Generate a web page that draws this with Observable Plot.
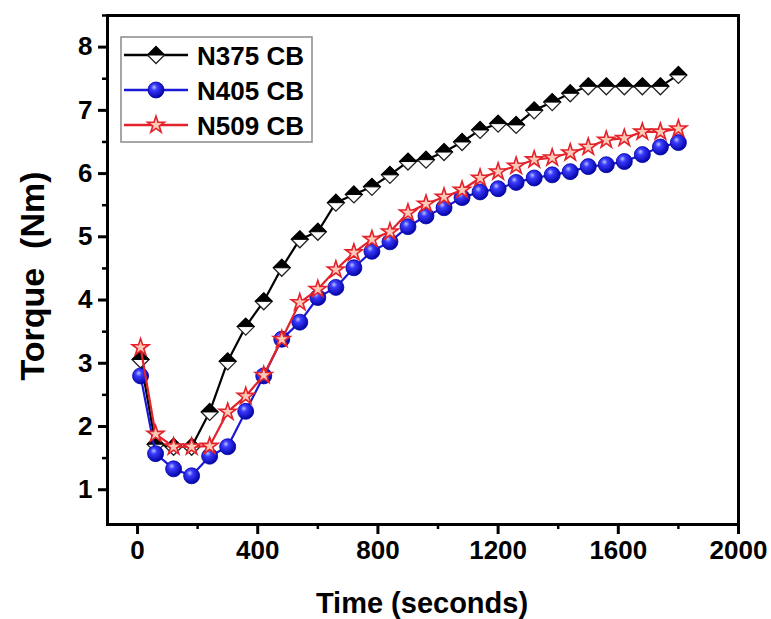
<!DOCTYPE html>
<html><head><meta charset="utf-8">
<script src="https://cdn.jsdelivr.net/npm/d3@7"></script>
<script src="https://cdn.jsdelivr.net/npm/@observablehq/plot@0.6"></script>
<style>body{margin:0;background:#fff} svg{display:block}</style>
</head><body><div id="chart"></div>
<script>
const times = [10,60,120,180,240,300,360,420,480,540,600,660,720,780,840,900,960,1020,1080,1140,1200,1260,1320,1380,1440,1500,1560,1620,1680,1740,1800];
const n375 = [3.06,1.72,1.68,1.68,2.23,3.03,3.58,3.98,4.51,4.96,5.08,5.54,5.67,5.79,5.98,6.19,6.22,6.34,6.50,6.69,6.79,6.77,7.00,7.13,7.27,7.38,7.38,7.38,7.38,7.38,7.56];
const n405 = [2.80,1.57,1.33,1.22,1.53,1.68,2.24,2.80,3.38,3.65,4.04,4.20,4.51,4.77,4.92,5.16,5.33,5.46,5.62,5.71,5.76,5.86,5.93,5.98,6.03,6.11,6.14,6.19,6.30,6.42,6.49];
const n509 = [3.25,1.88,1.68,1.68,1.69,2.23,2.48,2.81,3.38,3.96,4.17,4.48,4.75,4.96,5.08,5.38,5.52,5.63,5.74,5.93,6.03,6.12,6.22,6.25,6.33,6.42,6.53,6.56,6.66,6.66,6.71];
const seriesNames = ["N375 CB","N405 CB","N509 CB"];
const xTicks = [0,400,800,1200,1600,2000];
const xMinor = [200,600,1000,1400,1800];
const yTicks = [1,2,3,4,5,6,7,8];
const yMinor = [1.5,2.5,3.5,4.5,5.5,6.5,7.5,8.5];
const xTitle = "Time (seconds)";
const yTitle = "Torque\u00a0 (Nm)";

const rows = (vals) => times.map((t,i) => ({t, v: vals[i]}));
const d375 = rows(n375), d405 = rows(n405), d509 = rows(n509);

const diamondFull = {draw(ctx, size){const h = Math.sqrt(size/Math.PI); ctx.moveTo(0,-h); ctx.lineTo(h,0); ctx.lineTo(0,h); ctx.lineTo(-h,0); ctx.closePath();}};
const diamondTop = {draw(ctx, size){const h = Math.sqrt(size/Math.PI); ctx.moveTo(0,-h); ctx.lineTo(h,0); ctx.lineTo(-h,0); ctx.closePath();}};

const FONT = "Liberation Sans, Arial, sans-serif";
const blueLine = "#1a1ad6", redLine = "#e3222c";
const fmt = d => String(d);

const plot = Plot.plot({
  width: 771, height: 619,
  marginLeft: 107, marginRight: 33, marginTop: 15, marginBottom: 95,
  style: {fontFamily: FONT, fontWeight: "bold", background: "white", color: "black"},
  x: {domain: [-100, 2000]},
  y: {domain: [0.45, 8.5]},
  marks: [
    Plot.axisX(xMinor, {tickSize: 5, strokeWidth: 2.5, tickFormat: () => "", label: null}),
    Plot.axisX(xTicks, {tickSize: 10, tickPadding: 6, strokeWidth: 3, fontSize: 26, fontWeight: "bold", tickFormat: fmt, label: null}),
    Plot.axisY(yMinor, {tickSize: 5, strokeWidth: 2.5, tickFormat: () => "", label: null}),
    Plot.axisY(yTicks, {tickSize: 9, tickPadding: 6, strokeWidth: 3, fontSize: 26, fontWeight: "bold", tickFormat: fmt, label: null}),
    Plot.frame({stroke: "black", strokeWidth: 3}),
    Plot.line(d375, {x: "t", y: "v", stroke: "black", strokeWidth: 2.2}),
    Plot.dot(d375, {x: "t", y: "v", symbol: diamondFull, r: 8.5, fill: "white", stroke: "#222", strokeWidth: 1.3}),
    Plot.dot(d375, {x: "t", y: "v", symbol: diamondTop, r: 8.5, fill: "black", stroke: "black", strokeWidth: 1}),
    Plot.line(d405, {x: "t", y: "v", stroke: blueLine, strokeWidth: 2.2}),
    Plot.dot(d405, {x: "t", y: "v", r: 8, fill: "url(#sphereGrad)", stroke: "#0000a8", strokeWidth: 0.8}),
    Plot.line(d509, {x: "t", y: "v", stroke: redLine, strokeWidth: 2.2}),
    Plot.dot(d509, {x: "t", y: "v", symbol: "star", r: 5.3, fill: "#fbc9b5", stroke: redLine, strokeWidth: 1.6})
  ]
});
document.getElementById("chart").appendChild(plot);

const svg = d3.select(plot);
const defs = svg.insert("defs", ":first-child");
const g = defs.append("radialGradient").attr("id", "sphereGrad").attr("cx", "40%").attr("cy", "38%").attr("r", "65%").attr("fx", "38%").attr("fy", "32%");
g.append("stop").attr("offset", "0%").attr("stop-color", "#b8c4ff");
g.append("stop").attr("offset", "30%").attr("stop-color", "#3a3aff");
g.append("stop").attr("offset", "100%").attr("stop-color", "#0000a0");

// axis titles
svg.append("text").attr("x", 422).attr("y", 613).attr("text-anchor", "middle")
  .attr("font-family", FONT).attr("font-weight", "bold").attr("font-size", 29).attr("fill", "black").text(xTitle);
svg.append("text").attr("transform", "translate(44,276) rotate(-90)").attr("text-anchor", "middle")
  .attr("font-family", FONT).attr("font-weight", "bold").attr("font-size", 34).attr("fill", "black").text(yTitle);

// legend
const lg = svg.append("g");
lg.append("rect").attr("x", 121).attr("y", 37).attr("width", 191).attr("height", 105)
  .attr("fill", "white").attr("stroke", "#8a8a8a").attr("stroke-width", 1.5);
const rowsY = [55, 90, 125];
const lineCols = ["black", blueLine, redLine];
seriesNames.forEach((name, i) => {
  const y = rowsY[i];
  lg.append("line").attr("x1", 124).attr("x2", 188).attr("y1", y).attr("y2", y).attr("stroke", lineCols[i]).attr("stroke-width", 2.5);
  const m = lg.append("g").attr("transform", `translate(156,${y})`);
  if (i === 0) {
    m.append("path").attr("d", d3.symbol(diamondFull, Math.PI * 8.5 * 8.5)()).attr("fill", "white").attr("stroke", "#222").attr("stroke-width", 1.3);
    m.append("path").attr("d", d3.symbol(diamondTop, Math.PI * 8.5 * 8.5)()).attr("fill", "black").attr("stroke", "black");
  } else if (i === 1) {
    m.append("circle").attr("r", 8).attr("fill", "url(#sphereGrad)").attr("stroke", "#0000a8").attr("stroke-width", 0.8);
  } else {
    m.append("path").attr("d", d3.symbol(d3.symbolStar, Math.PI * 5.3 * 5.3)()).attr("fill", "#fbc9b5").attr("stroke", redLine).attr("stroke-width", 1.6);
  }
  lg.append("text").attr("x", 197).attr("y", y + 9.5).attr("text-anchor", "start").attr("font-family", FONT).attr("font-weight", "bold")
    .attr("font-size", 26).attr("fill", "black").text(name);
});
</script>
</body></html>
